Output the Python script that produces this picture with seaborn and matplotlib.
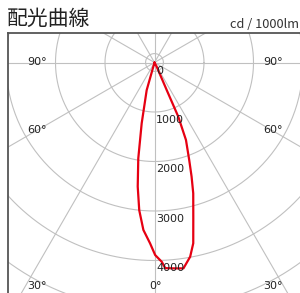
import numpy as np
import pandas as pd
import seaborn as sns
import matplotlib
matplotlib.use('Agg')
import matplotlib.pyplot as plt

# light distribution curve, angle from nadir (deg, + to the right) and cd/1000lm
angle_deg = [-17, -15.8, -11.9, -9.6, -7.7, -5.9, -3.8, -1.4, 0.2, 2.1, 3.0, 5.7, 8.0,
             10.4, 12.1, 14.0, 16.5, 18.0, 19.6, 22.1, 23.7, 23.9, 27.6, 28]
intensity = [0, 580, 1255, 1965, 2530, 3000, 3390, 3655, 3890, 4030, 4160, 4180, 4200,
             3990, 3735, 3240, 2755, 2425, 2090, 1690, 1195, 610, 95, 0]

ring_values = [0, 1000, 2000, 3000, 4000]
grid_rings = [180, 1000, 2000, 3000, 4000, 5000, 6000, 7000]
spoke_angles = list(range(0, 360, 30))
angle_labels = ['90°', '60°', '30°', '0°']

sns.set_style('white')
plt.rcParams['font.family'] = ['DejaVu Sans', 'Noto Sans CJK JP']

fig = plt.figure(figsize=(3.0, 2.93), dpi=100)
# axes box: left edge at 8px, top edge at 33px, the rest runs off the picture
ax = fig.add_axes([8/300, -3/293, 294/300, 263/293])

k = 0.0495  # px per cd
cx, cy = 154.5, 62.5
ax.set_xlim((8 - cx)/k, (302 - cx)/k)
ax.set_ylim(-(296 - cy)/k, (cy - 33)/k)

grid_col = '#c0c0c0'
t = np.linspace(0, 2*np.pi, 400)
for r in grid_rings:
    ax.plot(r*np.cos(t), r*np.sin(t), color=grid_col, lw=0.8, zorder=1)
for a in spoke_angles:
    th = np.deg2rad(a)
    ax.plot([0, 9000*np.sin(th)], [0, -9000*np.cos(th)], color=grid_col, lw=0.8, zorder=1)

# the curve
th = np.deg2rad(angle_deg)
df = pd.DataFrame({'x': np.array(intensity)*np.sin(th),
                   'y': -np.array(intensity)*np.cos(th)})
sns.lineplot(data=df, x='x', y='y', sort=False, estimator=None,
             color='#e60012', lw=1.6, ax=ax, zorder=3)

for v in ring_values:
    off = 80 if v == 0 else 60
    ax.text(30, -(v + off), str(v), fontsize=8, ha='left', va='top', color='#222', zorder=4)

# angle labels
xl, xr = (37 - cx)/k, (273 - cx)/k
for lab, py in zip(angle_labels[:3], [62, 130, 286]):
    y = -(py - cy)/k
    ax.text(xl, y, lab, fontsize=8, ha='center', va='center', color='#222')
    ax.text(xr, y, lab, fontsize=8, ha='center', va='center', color='#222')
ax.text((156 - cx)/k, -(286 - cy)/k, angle_labels[3], fontsize=8, ha='center', va='center', color='#222')

ax.set_xlabel('')
ax.set_ylabel('')
ax.set_xticks([])
ax.set_yticks([])
for s in ['right', 'bottom']:
    ax.spines[s].set_visible(False)
for s in ['top', 'left']:
    ax.spines[s].set_color('#555555')
    ax.spines[s].set_linewidth(1.3)

fig.text(7/300, 1 - 19/293, '配光曲線', fontsize=15, ha='left', va='center',
         family=['Noto Sans CJK JP'], color='#222')
fig.text(299.5/300, 1 - 28/293, 'cd / 1000lm', fontsize=9.2, ha='right', va='baseline',
         family=['Noto Sans CJK JP', 'DejaVu Sans'], color='#333')

fig.savefig('out.png', dpi=100)
